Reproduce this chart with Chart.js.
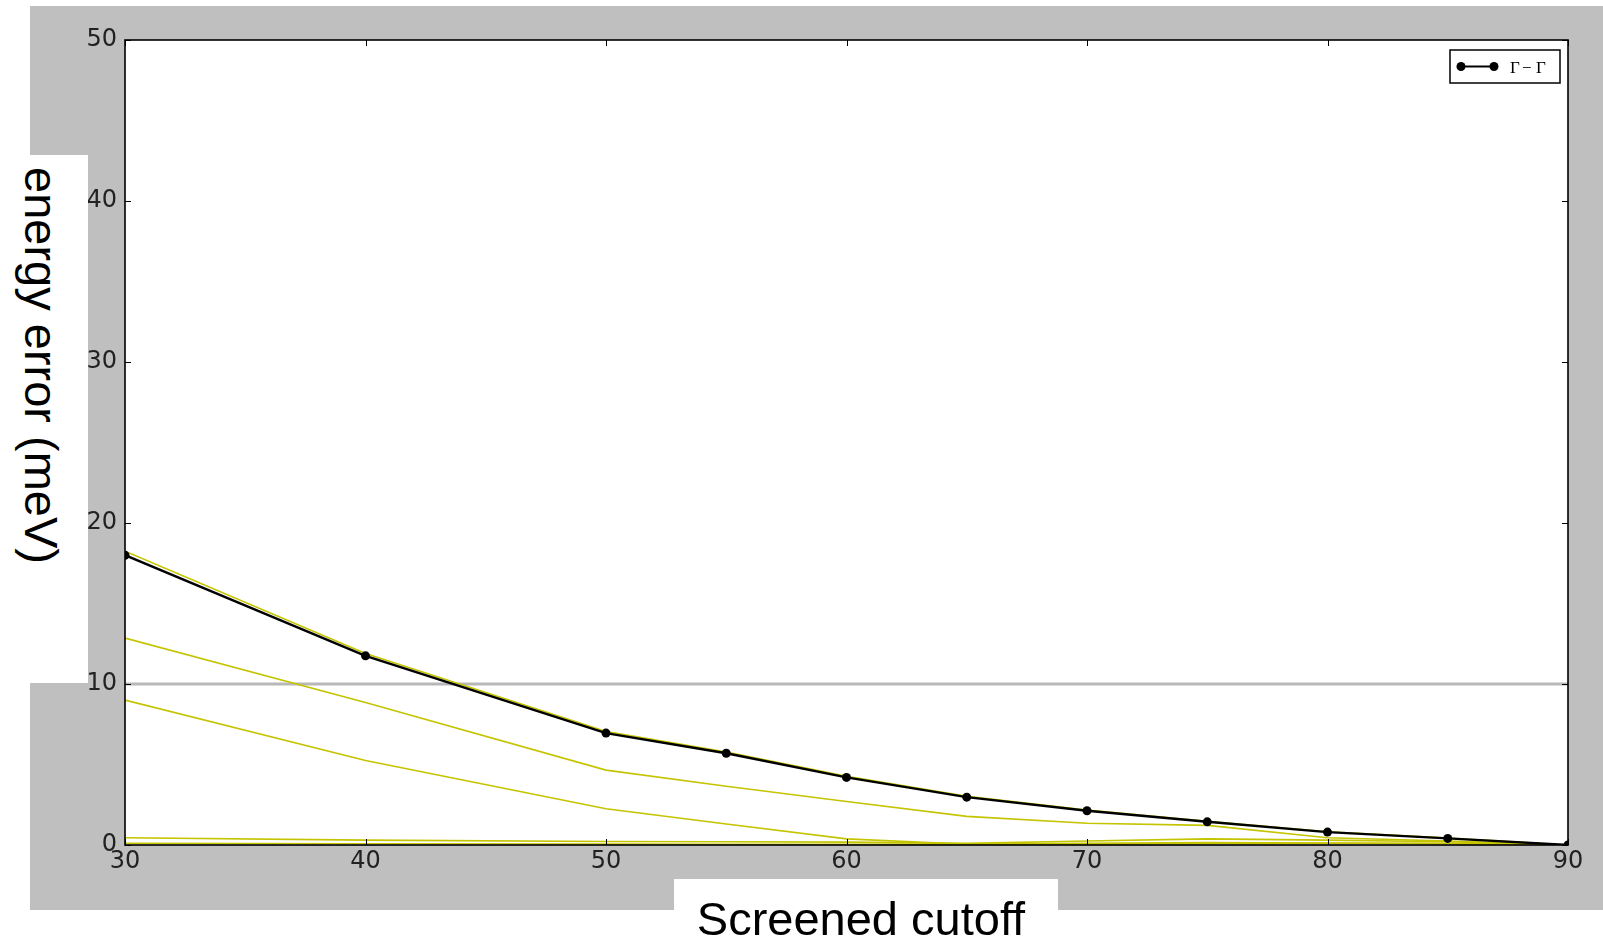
<!DOCTYPE html>
<html>
<head>
<meta charset="utf-8">
<script src="https://cdn.jsdelivr.net/npm/chart.js@4.4.0/dist/chart.umd.min.js"></script>
<style>
html, body { margin: 0; padding: 0; background: #fff; width: 1603px; height: 943px; overflow: hidden; }
#bg { position: absolute; left: 30px; top: 6px; width: 1573px; height: 904px; background: #bfbfbf; }
#wrap { position: absolute; left: 0; top: 0; width: 1603px; height: 943px; }
.box { position: absolute; background: #fff; z-index: 2; }
.lbl { position: absolute; z-index: 3; font-family: "Liberation Sans", Arial, sans-serif; font-size: 47px; line-height: 47px; color: #000; white-space: nowrap; }
</style>
</head>
<body>
<div id="bg"></div>
<div id="wrap"><canvas id="chart" width="1603" height="943"></canvas></div>
<div class="box" style="left:0;top:155px;width:88px;height:528px;"></div>
<div class="box" style="left:674px;top:879px;width:384px;height:64px;"></div>
<div class="lbl" id="ylabel" style="left:65px;top:167px;transform-origin:0 0;transform:rotate(90deg);">energy error (meV)</div>
<div class="lbl" id="xlabel" style="left:661px;top:895px;width:400px;text-align:center;">Screened cutoff</div>
<script>
// Données
const cutoffs = [30, 40, 50, 55, 60, 65, 70, 75, 80, 85, 90];
const gammaGamma = [18.0, 11.75, 6.95, 5.7, 4.2, 2.97, 2.13, 1.44, 0.8, 0.41, 0.0];
const yellowA = [18.25, 11.9, 7.05, 5.78, 4.27, 3.02, 2.17, 1.47, 0.82, 0.43, 0.0];
const yellowB = [12.85, 8.85, 4.65, 3.65, 2.7, 1.78, 1.35, 1.22, 0.45, 0.25, 0.0];
const yellowC = [9.0, 5.25, 2.25, 1.3, 0.38, 0.05, 0.1, 0.15, 0.12, 0.08, 0.0];
const yellowD = [0.45, 0.3, 0.22, 0.2, 0.18, 0.1, 0.25, 0.38, 0.3, 0.2, 0.0];
const yellowE = [0.1, 0.08, 0.06, 0.05, 0.05, 0.05, 0.05, 0.08, 0.1, 0.1, 0.0];
const threshold = 10;
const xTicks = [30, 40, 50, 60, 70, 80, 90];
const yTicks = [0, 10, 20, 30, 40, 50];
const legendLabel = 'Γ−Γ';

function toPoints(values) {
    return cutoffs.map((x, i) => ({ x: x, y: values[i] }));
}

const yellow = '#c4c400';

function yellowSet(values) {
    return {
        data: toPoints(values),
        borderColor: yellow,
        borderWidth: 1.6,
        pointRadius: 0,
        tension: 0,
        clip: 0
    };
}

// Cadre, graduations intérieures et légende
const framePlugin = {
    id: 'frame',
    beforeDatasetsDraw(chart) {
        const a = chart.chartArea;
        const ctx = chart.ctx;
        ctx.save();
        ctx.fillStyle = '#fff';
        ctx.fillRect(a.left, a.top, a.right - a.left, a.bottom - a.top);
        ctx.restore();
    },
    afterDraw(chart) {
        const a = chart.chartArea;
        const ctx = chart.ctx;
        const xs = chart.scales.x, ys = chart.scales.y;
        ctx.save();
        ctx.strokeStyle = '#000';
        ctx.lineWidth = 1;
        ctx.beginPath();
        xTicks.forEach(v => {
            const px = Math.round(xs.getPixelForValue(v)) + 0.5;
            ctx.moveTo(px, a.bottom); ctx.lineTo(px, a.bottom - 6);
            ctx.moveTo(px, a.top); ctx.lineTo(px, a.top + 6);
        });
        yTicks.forEach(v => {
            const py = Math.round(ys.getPixelForValue(v)) + 0.5;
            ctx.moveTo(a.left, py); ctx.lineTo(a.left + 6, py);
            ctx.moveTo(a.right, py); ctx.lineTo(a.right - 6, py);
        });
        ctx.stroke();
        ctx.lineWidth = 1.6;
        ctx.strokeRect(a.left, a.top, a.right - a.left, a.bottom - a.top);

        // légende
        const bx = 1450, by = 50, bw = 110, bh = 33;
        ctx.fillStyle = '#fff';
        ctx.fillRect(bx, by, bw, bh);
        ctx.lineWidth = 1.5;
        ctx.strokeRect(bx, by, bw, bh);
        ctx.lineWidth = 2.2;
        ctx.beginPath();
        ctx.moveTo(1461, 66.5); ctx.lineTo(1494, 66.5);
        ctx.stroke();
        ctx.fillStyle = '#000';
        [1461, 1494].forEach(cx => {
            ctx.beginPath();
            ctx.arc(cx, 66.5, 4.5, 0, Math.PI * 2);
            ctx.fill();
        });
        ctx.font = '17px "Liberation Serif", serif';
        ctx.textBaseline = 'alphabetic';
        ctx.fillText('Γ', 1510, 72.5);
        ctx.fillText('−', 1522, 72.5);
        ctx.fillText('Γ', 1536, 72.5);
        ctx.restore();
    }
};

const tickFont = { family: '"DejaVu Sans", sans-serif', size: 24 };

new Chart(document.getElementById('chart'), {
    type: 'line',
    data: {
        datasets: [
            {
                label: legendLabel,
                data: toPoints(gammaGamma),
                borderColor: '#000',
                borderWidth: 2.4,
                pointRadius: 4.5,
                pointBackgroundColor: '#000',
                pointBorderWidth: 0,
                tension: 0,
                clip: 0
            },
            yellowSet(yellowA),
            yellowSet(yellowB),
            yellowSet(yellowC),
            yellowSet(yellowD),
            yellowSet(yellowE),
            {
                data: [{ x: cutoffs[0], y: threshold }, { x: cutoffs[cutoffs.length - 1], y: threshold }],
                borderColor: '#b8b8b8',
                borderWidth: 3,
                pointRadius: 0,
                clip: 0
            }
        ]
    },
    options: {
        responsive: false,
        animation: false,
        layout: { padding: { left: 0, top: 40, right: 35, bottom: 58 } },
        scales: {
            x: {
                type: 'linear',
                min: 30,
                max: 90,
                afterFit: s => { s.height = 40; },
                afterBuildTicks: s => { s.ticks = xTicks.map(v => ({ value: v })); },
                grid: { display: false, drawTicks: false },
                border: { display: false },
                ticks: { font: tickFont, color: '#222', padding: 2, maxRotation: 0 }
            },
            y: {
                min: 0,
                max: 50,
                afterFit: s => { s.width = 125; },
                afterBuildTicks: s => { s.ticks = yTicks.map(v => ({ value: v })); },
                grid: { display: false, drawTicks: false },
                border: { display: false },
                ticks: { font: tickFont, color: '#222', padding: 8 }
            }
        },
        plugins: {
            legend: { display: false },
            tooltip: { enabled: false }
        }
    },
    plugins: [framePlugin]
});
</script>
</body>
</html>
